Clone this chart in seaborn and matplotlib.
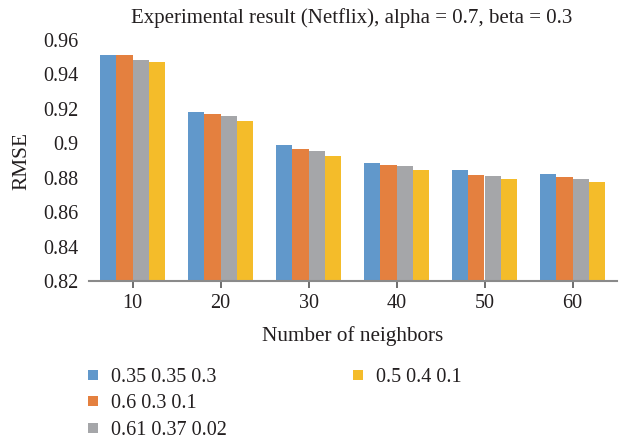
import matplotlib
matplotlib.use("Agg")
import matplotlib.pyplot as plt
from matplotlib.lines import Line2D
import seaborn as sns
import pandas as pd

# Number of neighbors on the x axis
neighbors = ["10", "20", "30", "40", "50", "60"]

# Weight settings compared in each group
settings = ["0.35 0.35 0.3", "0.6 0.3 0.1", "0.61 0.37 0.02", "0.5 0.4 0.1"]

# RMSE per weight setting
rmse_035_035_03 = [0.9514, 0.9183, 0.8990, 0.8886, 0.8845, 0.8822]
rmse_06_03_01 = [0.9513, 0.9171, 0.8967, 0.8874, 0.8816, 0.8805]
rmse_061_037_002 = [0.9485, 0.9160, 0.8956, 0.8869, 0.8810, 0.8793]
rmse_05_04_01 = [0.9473, 0.9131, 0.8927, 0.8845, 0.8793, 0.8776]

y_ticks = [0.82, 0.84, 0.86, 0.88, 0.9, 0.92, 0.94, 0.96]
y_tick_labels = ["0.82", "0.84", "0.86", "0.88", "0.9", "0.92", "0.94", "0.96"]

colors = ["#6198CB", "#E4803F", "#A5A6A9", "#F4BC2A"]

series = [rmse_035_035_03, rmse_06_03_01, rmse_061_037_002, rmse_05_04_01]
df = pd.DataFrame(
    [(n, s, v) for s, vals in zip(settings, series) for n, v in zip(neighbors, vals)],
    columns=["neighbors", "setting", "rmse"],
)

sns.set_theme(style="white")
plt.rcParams["font.family"] = ["Liberation Serif", "DejaVu Serif"]
text_color = "#231F20"

fig = plt.figure(figsize=(6.2, 4.4), dpi=100)
ax = fig.add_axes([88.5 / 620, 1 - 281 / 440, 528 / 620, 241 / 440])

sns.barplot(
    data=df, x="neighbors", y="rmse", hue="setting",
    order=neighbors, hue_order=settings, palette=colors,
    width=0.74, gap=0, linewidth=0, saturation=1, legend=False, ax=ax,
)

ax.set_xlim(-0.5, 5.5)
ax.set_ylim(0.82, 0.96)
ax.set_yticks(y_ticks)
ax.set_yticklabels(y_tick_labels)
ax.tick_params(axis="y", length=0, labelsize=14.5, colors=text_color, pad=7)
ax.tick_params(axis="x", length=5, width=1.2, color="#555555", direction="out",
               labelsize=14.5, labelcolor=text_color, pad=4.5)
ax.xaxis.set_ticks_position("bottom")

for side in ["top", "right", "left"]:
    ax.spines[side].set_visible(False)
ax.spines["bottom"].set_color("#8A8A8A")
ax.spines["bottom"].set_linewidth(1.5)
ax.grid(False)

ax.set_xlabel("Number of neighbors", fontsize=15.3, color=text_color, labelpad=9)
ax.set_ylabel("RMSE", fontsize=15.3, color=text_color, labelpad=9)

fig.text(352 / 620, 1 - 18.5 / 440, "Experimental result (Netflix), alpha = 0.7, beta = 0.3",
         ha="center", va="center", fontsize=15, color=text_color)

# Legend laid out in two columns: three entries on the left, one on the right
handles = [Line2D([], [], marker="s", linestyle="none", markersize=6.5,
                  markerfacecolor=c, markeredgewidth=0) for c in colors]
blank = Line2D([], [], linestyle="none", marker=None)
leg_handles = handles[:3] + [handles[3], blank, blank]
leg_labels = settings[:3] + [settings[3], "", ""]
fig.legend(leg_handles, leg_labels, ncol=2, loc="upper left",
           bbox_to_anchor=(78.5 / 620, 1 - 362 / 440), frameon=False,
           fontsize=14.5, handlelength=0.8, handletextpad=0.52,
           labelspacing=0.36, columnspacing=6.08, borderaxespad=0,
           borderpad=0.3, labelcolor=text_color)

fig.savefig("out.png", dpi=100)
